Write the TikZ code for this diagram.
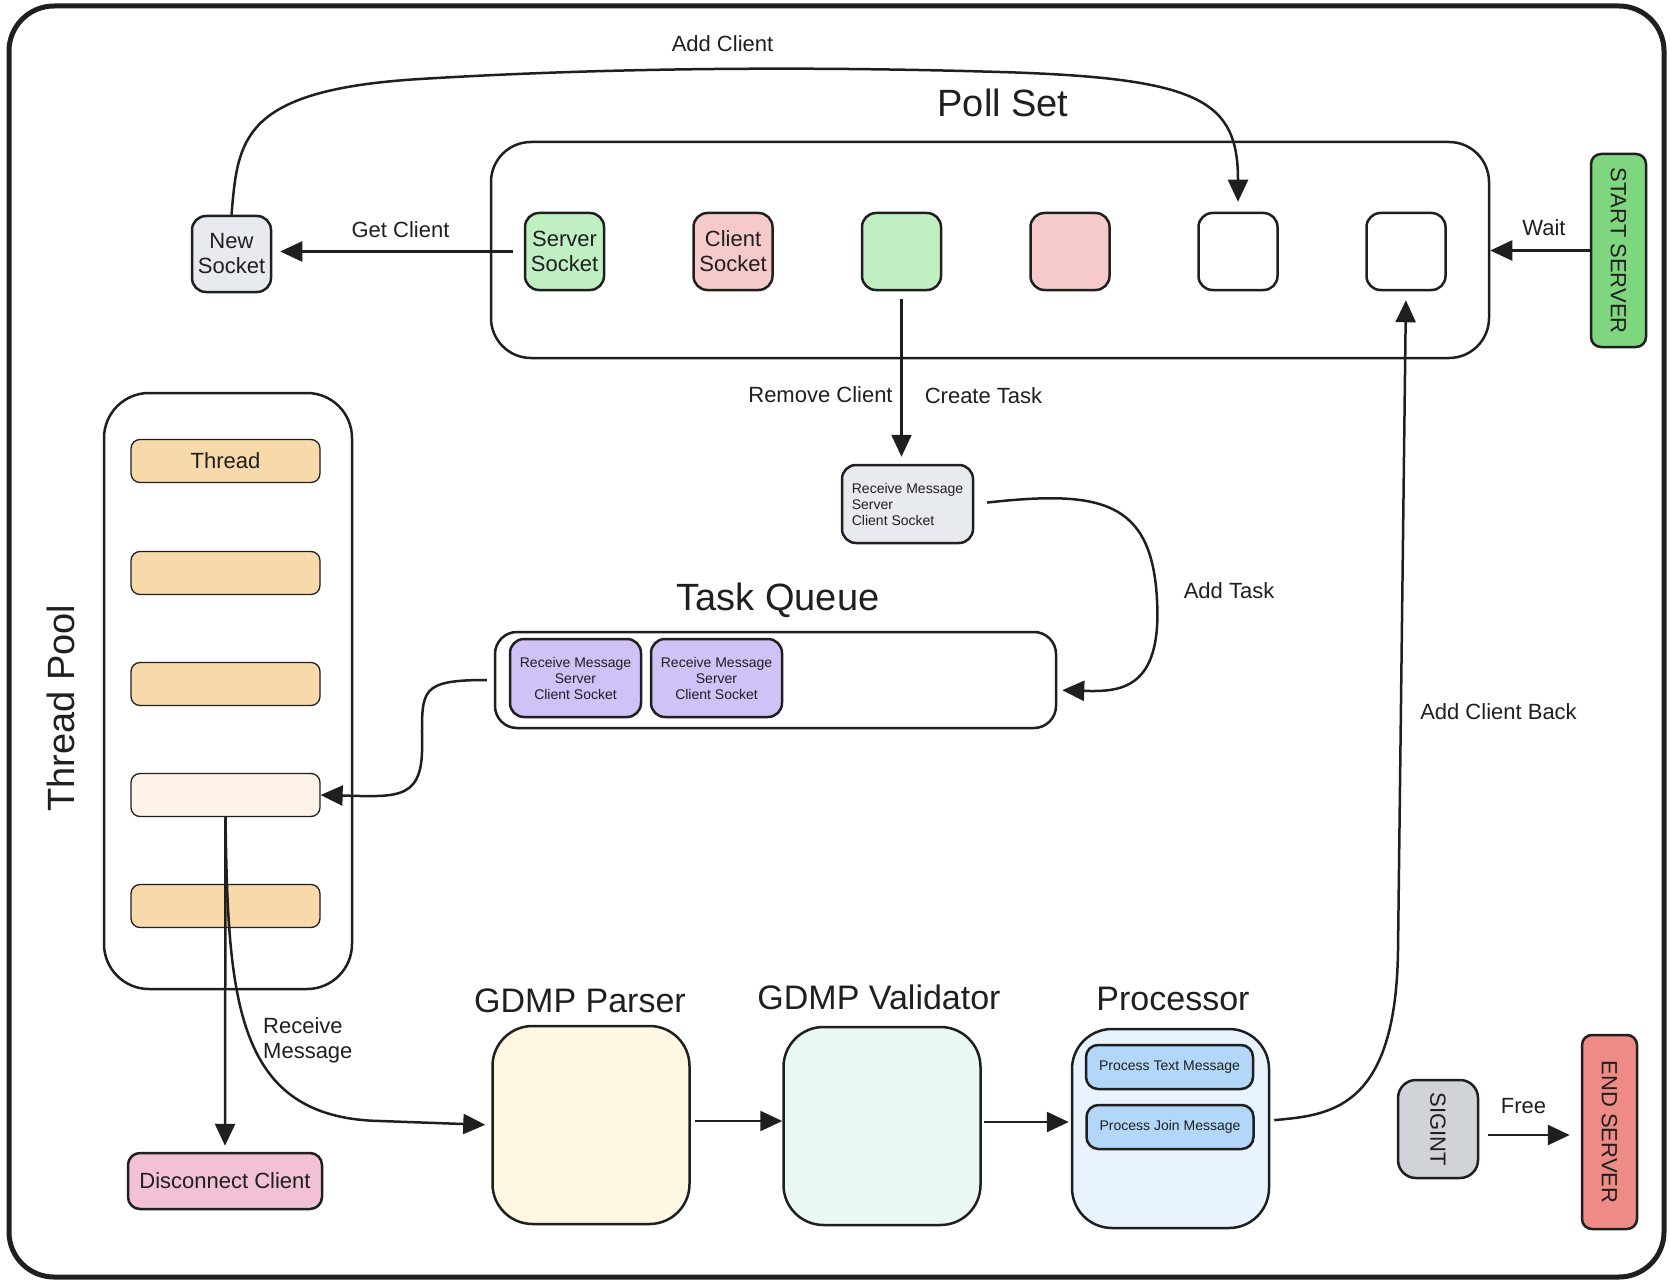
\documentclass[tikz,border=0pt]{standalone}
\usepackage{fontspec}
\setmainfont{Liberation Sans}
\usetikzlibrary{arrows.meta}

\definecolor{ink}{HTML}{1F1F1F}
\definecolor{sockgreen}{HTML}{C0F0C1}
\definecolor{sockred}{HTML}{F6CACA}
\definecolor{sockgray}{HTML}{E7EAEE}
\definecolor{startgreen}{HTML}{7ED67E}
\definecolor{endred}{HTML}{EF8B86}
\definecolor{siggray}{HTML}{D0D3D7}
\definecolor{threadorange}{HTML}{F8D9AA}
\definecolor{threadlight}{HTML}{FDF3E6}
\definecolor{discpink}{HTML}{F2C1D5}
\definecolor{taskpurple}{HTML}{D0C1F7}
\definecolor{parseryellow}{HTML}{FEF7E1}
\definecolor{validgreen}{HTML}{E9F8F2}
\definecolor{procblue}{HTML}{E9F3FD}
\definecolor{itemblue}{HTML}{B3D7F8}

\begin{document}
\begin{tikzpicture}[%
      x=1pt, y=-1pt,
      font=\fontsize{22}{25}\selectfont, text=ink,
      box/.style={draw=ink, line width=2.5pt, rounded corners=14pt, inner sep=0pt},
      slot/.style={box, minimum width=79pt, minimum height=77pt, align=center},
      thread/.style={draw=ink, line width=1.3pt, rounded corners=9pt, fill=threadorange, minimum width=189pt, minimum height=43pt},
      stage/.style={box, rounded corners=40pt, minimum width=197pt, minimum height=198pt},
      task/.style={box, fill=taskpurple, minimum width=131pt, minimum height=78pt, align=center, font=\fontsize{14}{16}\selectfont},
      item/.style={box, fill=itemblue, rounded corners=12pt, minimum width=167pt, minimum height=44pt, font=\fontsize{14}{16}\selectfont},
      title/.style={inner sep=0pt, font=\fontsize{34}{38}\selectfont},
      bigtitle/.style={inner sep=0pt, font=\fontsize{38}{42}\selectfont},
      lbl/.style={inner sep=0pt},
      arr/.style={draw=ink, line width=2.5pt, -{Triangle[length=22pt,width=20pt]}},
      ]
      \useasboundingbox (0,0) rectangle (1670,1284);
      \draw [draw=ink, line width=5pt, rounded corners=45pt] (9,6) rectangle (1664,1277);

      \node [bigtitle] at (1003,103) {Poll Set};
      \node [box, rounded corners=40pt, minimum width=998pt, minimum height=216pt] (pollset) at (990,250) {};
      \node [slot, fill=sockgreen] (srvsock) at (564.5,251.5) {Server\\Socket};
      \node [slot, fill=sockred] (clisock) at (733,251.5) {Client\\Socket};
      \node [slot, fill=sockgreen] (slot3) at (901.5,251.5) {};
      \node [slot, fill=sockred] (slot4) at (1070,251.5) {};
      \node [slot, fill=white] (slot5) at (1238,251.5) {};
      \node [slot, fill=white] (slot6) at (1406,251.5) {};

      \node [slot, fill=sockgray, minimum height=76pt] (newsock) at (231.5,254) {New\\Socket};
      \node [box, fill=startgreen, rounded corners=10pt, rotate=-90, minimum width=193pt, minimum height=55pt] (startsrv) at (1618.5,250.5) {START SERVER};

      \node [box, fill=sockgray, minimum width=131pt, minimum height=78pt, align=left, font=\fontsize{14}{16}\selectfont] (mktask) at (907.5,504) {Receive Message\\Server\\Client Socket};

      \node [bigtitle] at (778,600) {Task Queue};
      \node [box, rounded corners=22pt, minimum width=561pt, minimum height=96pt] (queue) at (775.5,680) {};
      \node [task] (task1) at (575.5,678) {Receive Message\\Server\\Client Socket};
      \node [task] (task2) at (716.5,678) {Receive Message\\Server\\Client Socket};

      \node [bigtitle, rotate=90] at (61,708) {Thread Pool};
      \node [box, rounded corners=45pt, minimum width=248pt, minimum height=596pt] (pool) at (228,691) {};
      \node [thread] (thread1) at (225.5,461) {Thread};
      \node [thread] (thread2) at (225.5,573) {};
      \node [thread] (thread3) at (225.5,684) {};
      \node [thread, fill=threadlight] (thread4) at (225.5,795) {};
      \node [thread] (thread5) at (225.5,906) {};

      \node [box, fill=discpink, rounded corners=12pt, minimum width=194pt, minimum height=56pt] (disconnect) at (225,1181) {Disconnect Client};

      \node [title] at (580,1001) {GDMP Parser};
      \node [title] at (879,997) {GDMP Validator};
      \node [title] at (1173,999) {Processor};
      \node [stage, fill=parseryellow] (parser) at (591,1125) {};
      \node [stage, fill=validgreen] (validator) at (882,1126) {};
      \node [stage, fill=procblue, minimum height=199pt] (proc) at (1170.5,1128.5) {};
      \node [item] (textmsg) at (1169.5,1067) {Process Text Message};
      \node [item] (joinmsg) at (1170,1127) {Process Join Message};

      \node [box, fill=siggray, rounded corners=18pt, rotate=-90, minimum width=98pt, minimum height=80pt] (sigint) at (1438,1129) {SIGINT};
      \node [box, fill=endred, rounded corners=10pt, rotate=-90, minimum width=194pt, minimum height=55pt] (endsrv) at (1609.5,1132) {END SERVER};

      \draw [arr, shorten >=10pt] (newsock.north) .. controls (238,140) and (240,90) .. (420,79) .. controls (600,68) and (800,66) .. (1000,72) .. controls (1200,78) and (1238,100) .. (slot5.north);
      \draw [arr, shorten <=11pt, shorten >=8pt] (srvsock.west) -- (srvsock.west -| newsock.east);
      \draw [arr] (startsrv.south) -- (startsrv.south -| pollset.east);
      \draw [arr, shorten <=8pt, shorten >=7pt] (slot3.south) -- (slot3.south |- mktask.north);
      \draw [arr, shorten <=13pt, shorten >=5pt] (mktask.east) .. controls (1100,490) and (1152,500) .. (1157,600) .. controls (1162,690) and (1120,692) .. ([yshift=-10pt]queue.east);
      \draw [arr, shorten <=7pt] (queue.west) .. controls (420,680) and (422,690) .. (422,740) .. controls (424,800) and (400,797) .. (thread4.east);
      \draw [arr, shorten >=6pt] (thread4.south) -- (disconnect.north);
      \draw [arr, shorten >=6pt] (thread4.south) .. controls (228,1000) and (235,1118) .. (380,1121) -- (parser.west);
      \draw [arr, shorten <=4pt] ([yshift=4pt]parser.east) -- ([yshift=4pt]parser.east -| validator.west);
      \draw [arr, shorten <=2pt, shorten >=2pt] ([yshift=4pt]validator.east) -- ([yshift=4pt]validator.east -| proc.west);
      \draw [arr, shorten <=4pt, shorten >=9pt] ([yshift=8pt]proc.east) .. controls (1330,1115) and (1396,1110) .. (1398,950) -- (slot6.south);
      \draw [arr, shorten <=9pt, shorten >=11pt] ([yshift=-6pt]sigint.north) -- ([yshift=-6pt]sigint.north -| endsrv.south);

      \node [lbl] at (722.5,44) {Add Client};
      \node [lbl] at (400.5,230) {Get Client};
      \node [lbl] at (1544,228) {Wait};
      \node [lbl] at (820.5,395) {Remove Client};
      \node [lbl] at (983.5,396) {Create Task};
      \node [lbl] at (1229,591) {Add Task};
      \node [lbl] at (1498.5,712) {Add Client Back};
      \node [lbl] at (1523.5,1106) {Free};
      \node [lbl, anchor=west, align=left] at (263,1040) {Receive\\Message};
\end{tikzpicture}
\end{document}
